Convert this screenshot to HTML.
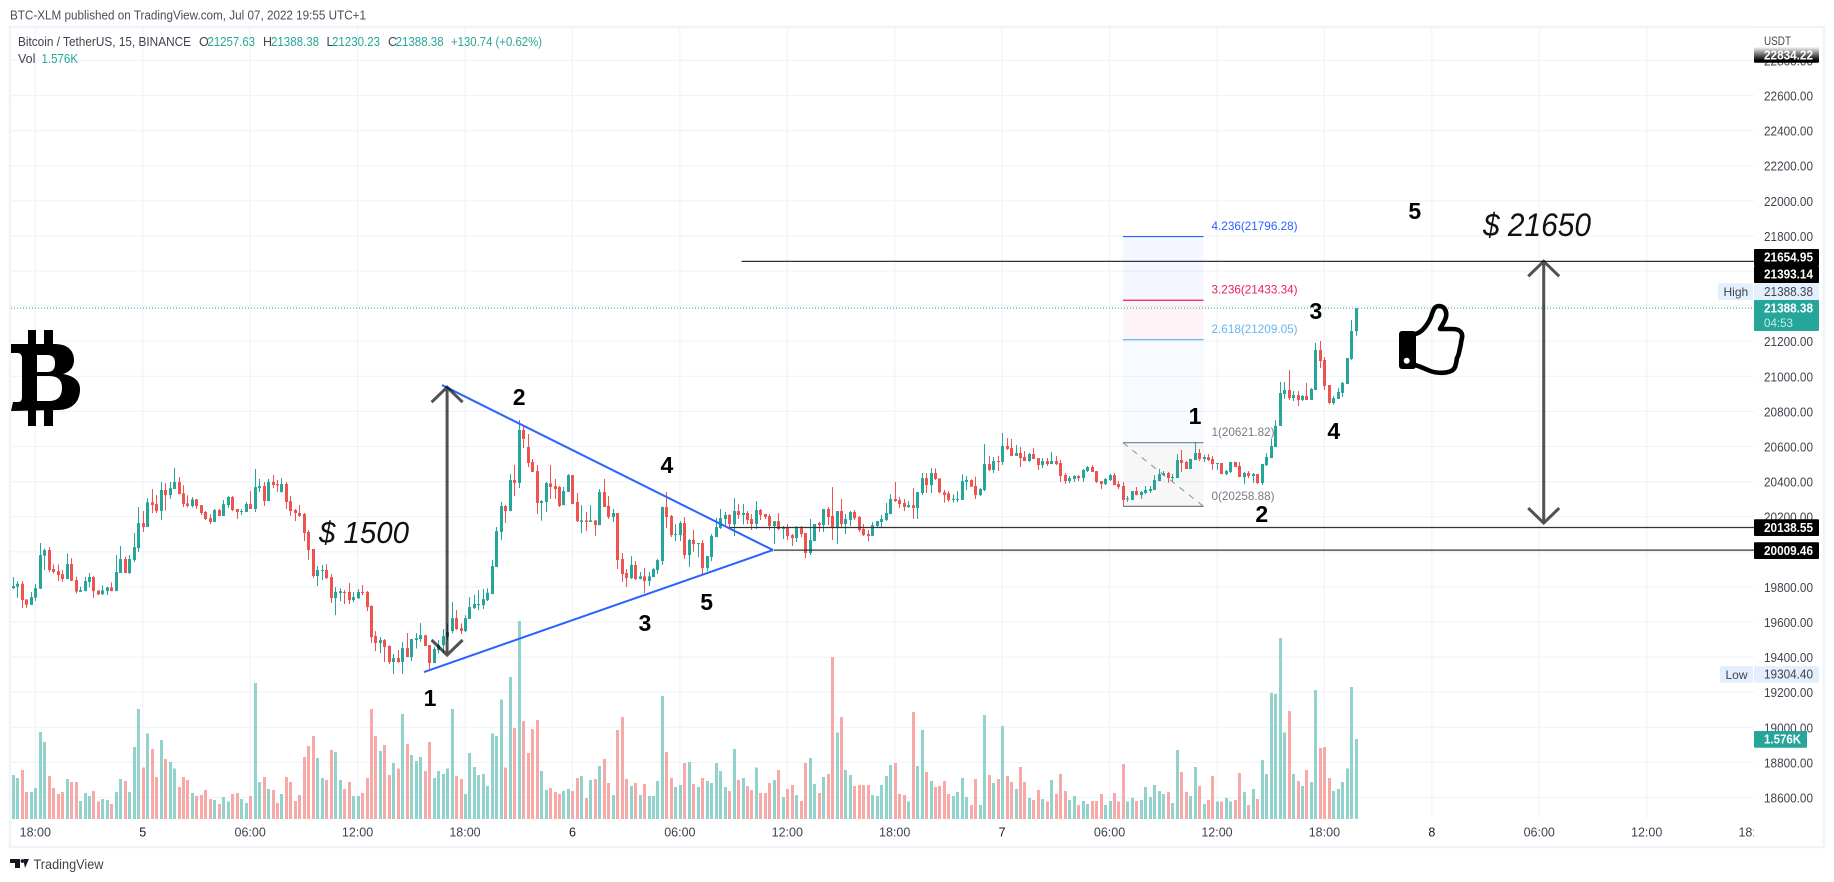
<!DOCTYPE html>
<html lang="en">
<head>
<meta charset="utf-8">
<title>BTC-XLM published on TradingView.com</title>
<style>
html,body{margin:0;padding:0;background:#fff;width:1834px;height:882px;overflow:hidden}
svg{display:block}
text{font-family:"Liberation Sans",sans-serif}
</style>
</head>
<body>
<svg id="chart" width="1834" height="882" viewBox="0 0 1834 882" xmlns="http://www.w3.org/2000/svg">
<defs>
<clipPath id="pane"><rect x="11" y="28" width="1743" height="818"/></clipPath>
<linearGradient id="fade" x1="0" y1="0" x2="0" y2="1"><stop offset="0" stop-color="#fff"/><stop offset="0.85" stop-color="#000"/><stop offset="1" stop-color="#000"/></linearGradient>
</defs>
<rect x="0" y="0" width="1834" height="882" fill="#fff"/>
<text x="10" y="19.5" font-size="13" fill="#4a4e58" textLength="356" lengthAdjust="spacingAndGlyphs">BTC-XLM published on TradingView.com, Jul 07, 2022 19:55 UTC+1</text>
<rect x="10" y="27" width="1814" height="820" fill="none" stroke="#f0f3fa" stroke-width="2.4"/>
<g id="grid"></g>
<g id="volumes"></g>
<g id="candles"></g>
<g id="fib"></g>
<g id="levels"></g>
<g id="triangle"></g>
<g id="arrows"></g>
<g id="waves"></g>
<text x="319" y="543" font-size="31" font-style="italic" fill="#111" textLength="90" lengthAdjust="spacingAndGlyphs">$ 1500</text>
<text x="1483" y="236" font-size="32" font-style="italic" fill="#111" textLength="108" lengthAdjust="spacingAndGlyphs">$ 21650</text>
<g fill="#000">
<path fill-rule="evenodd" d="M11 344H55C68 344 74 351 74 360C74 367 70 372 63 374C74 376 80 381 80 389C80 402 72 410 58 410L11 411L13 402H18C21 402 22 400 22 397V358C22 355 20 353 18 353H11ZM37 355V372H47C53 372 55 369 55 363C55 358 53 355 47 355ZM37 376V401H49C58 401 62 396 62 388C62 380 58 376 49 376Z"/>
<rect x="28" y="330" width="8" height="15"/><rect x="44" y="330" width="9" height="15"/>
<rect x="28" y="409" width="8" height="17"/><rect x="44" y="409" width="9" height="17"/>
</g>
<g>
<rect x="1399" y="331" width="17" height="38" rx="3" fill="#000"/>
<circle cx="1406.7" cy="360.7" r="3" fill="#fff"/>
<path d="M1415 334C1422 333 1428 324 1431 317C1433 311 1434 306 1439 306C1445 306 1447 312 1446 317C1445 321 1442 325 1440 329H1453C1460 329 1463 333 1462 338C1461 341 1461 345 1460 348C1459 352 1459 355 1457 358C1456 363 1456 369 1451 371C1444 374 1434 373 1428 370C1423 368 1419 366 1415 365" fill="none" stroke="#000" stroke-width="4.6" stroke-linejoin="round" stroke-linecap="round"/>
</g>
<g font-size="12.5">
<text x="18" y="46" fill="#3f434d" textLength="173" lengthAdjust="spacingAndGlyphs">Bitcoin / TetherUS, 15, BINANCE</text>
<text x="199" y="46" fill="#3f434d">O</text>
<text x="207.5" y="46" fill="#26a69a" textLength="47.5" lengthAdjust="spacingAndGlyphs">21257.63</text>
<text x="263" y="46" fill="#3f434d">H</text>
<text x="271" y="46" fill="#26a69a" textLength="48" lengthAdjust="spacingAndGlyphs">21388.38</text>
<text x="326.5" y="46" fill="#3f434d">L</text>
<text x="332" y="46" fill="#26a69a" textLength="48" lengthAdjust="spacingAndGlyphs">21230.23</text>
<text x="388" y="46" fill="#3f434d">C</text>
<text x="395.6" y="46" fill="#26a69a" textLength="48" lengthAdjust="spacingAndGlyphs">21388.38</text>
<text x="451" y="46" fill="#26a69a" textLength="91" lengthAdjust="spacingAndGlyphs">+130.74 (+0.62%)</text>
<text x="18" y="63" fill="#3f434d">Vol</text>
<text x="41.5" y="63" fill="#26a69a" textLength="36.5" lengthAdjust="spacingAndGlyphs">1.576K</text>
</g>
<g id="timeaxis"></g>
<rect x="1754" y="28" width="68" height="818" fill="#fff"/>
<text x="1764" y="45" font-size="12" fill="#3f434d" textLength="27" lengthAdjust="spacingAndGlyphs">USDT</text>
<g id="priceaxis"></g>
<g id="badges"></g>
<g>
<path d="M10 859H20V868H15V863H10Z M25 868L29 859H24V863 Z" fill="#131722" stroke="none"/>
<circle cx="22.5" cy="861" r="1.9" fill="#131722"/>
<text x="33.5" y="869" font-size="14" fill="#3f434d" textLength="70" lengthAdjust="spacingAndGlyphs">TradingView</text>
</g>
</svg>
<script>
const opens=[19793,19801,19818,19729,19698,19738,19790,19978,20010,19902,
19890,19873,19845,19930,19839,19772,19776,19828,19856,19780,
19759,19776,19797,19776,19879,19959,19879,19953,20021,20164,
20141,20282,20272,20232,20352,20323,20358,20398,20333,20276,
20261,20299,20266,20227,20192,20170,20238,20204,20266,20312,
20244,20228,20227,20272,20244,20363,20375,20289,20398,20386,
20341,20386,20289,20238,20221,20215,20113,20016,19862,19890,
19896,19856,19736,19765,19771,19771,19725,19736,19771,19771,
19691,19520,19480,19497,19463,19372,19394,19372,19451,19400,
19497,19503,19525,19468,19366,19440,19468,19516,19548,19622,
19565,19548,19617,19679,19696,19696,19725,19759,19913,20113,
20261,20232,20409,20392,20694,20597,20512,20460,20278,20284,
20390,20375,20369,20266,20341,20437,20284,20170,20179,20170,
20179,20152,20341,20261,20198,20221,19959,19879,19850,19925,
19845,19860,19833,19856,19896,19947,20255,20204,20095,20095,
20164,19981,20067,20044,20050,19907,19970,20084,20135,20187,
20210,20156,20232,20210,20221,20187,20158,20238,20215,20204,
20147,20175,20130,20141,20095,20078,20135,20107,19993,20061,
20164,20152,20244,20204,20135,20232,20158,20181,20227,20198,
20130,20101,20090,20147,20170,20181,20215,20301,20295,20278,
20255,20266,20249,20335,20420,20380,20449,20418,20339,20333,
20297,20295,20295,20398,20409,20375,20323,20352,20500,20466,
20517,20512,20603,20591,20546,20563,20540,20517,20557,20534,
20494,20517,20500,20517,20506,20437,20403,20415,20432,20420,
20460,20483,20460,20403,20386,20409,20437,20386,20375,20299,
20295,20346,20323,20335,20346,20352,20403,20437,20449,20420,
20420,20523,20512,20472,20523,20563,20529,20540,20529,20500,
20506,20443,20455,20512,20489,20426,20449,20432,20443,20392,
20494,20534,20597,20717,20899,20922,20876,20893,20865,20888,
20865,20922,21150,21093,20950,20848,20871,20905,20956,21099,21257.63];
const highs=[19856,19833,19833,19729,19771,19816,20050,20018,20027,19928,
19928,19896,19991,19964,19858,19801,19858,19879,19862,19780,
19810,19801,19826,19981,20033,19972,19981,20107,20255,20232,
20305,20358,20323,20398,20392,20398,20477,20426,20379,20323,
20312,20301,20266,20232,20215,20244,20244,20295,20318,20318,
20244,20244,20284,20346,20472,20415,20398,20415,20437,20409,
20420,20398,20318,20244,20266,20221,20124,20016,19919,19925,
19930,19873,19799,19793,19782,19822,19771,19788,19810,19776,
19696,19548,19514,19503,19468,19417,19440,19486,19537,19503,
19537,19594,19525,19468,19459,19497,19560,19592,19714,19668,
19592,19639,19742,19754,19782,19788,19792,19953,20141,20284,
20266,20443,20495,20751,20717,20671,20529,20495,20295,20399,
20495,20415,20375,20369,20443,20437,20335,20266,20227,20266,
20179,20358,20415,20318,20244,20221,19993,19902,19976,19947,
19885,19907,19885,19907,19959,20257,20341,20210,20158,20175,
20198,20073,20124,20050,20067,19976,20101,20192,20244,20227,
20215,20306,20272,20272,20232,20215,20289,20244,20215,20215,
20175,20221,20147,20158,20101,20147,20147,20107,20187,20158,
20170,20244,20255,20369,20232,20301,20215,20232,20238,20204,
20158,20124,20170,20175,20210,20278,20329,20398,20312,20301,
20289,20363,20341,20449,20449,20477,20475,20418,20352,20346,
20327,20346,20441,20432,20413,20428,20363,20614,20546,20540,
20546,20677,20648,20643,20608,20597,20574,20563,20591,20534,
20534,20534,20569,20546,20523,20449,20432,20437,20437,20472,
20489,20494,20460,20403,20420,20443,20449,20403,20398,20318,
20346,20369,20346,20375,20375,20437,20472,20460,20455,20443,
20557,20580,20517,20529,20626,20586,20552,20557,20546,20506,
20506,20466,20512,20512,20512,20455,20460,20449,20443,20500,
20563,20643,20751,20968,20968,21036,20916,20916,20893,20962,
20933,21190,21201,21110,20950,20888,20933,20968,21104,21321,21388.38];
const lows=[19788,19738,19681,19681,19696,19719,19788,19896,19885,19877,
19833,19829,19845,19833,19763,19771,19776,19797,19738,19753,
19753,19753,19776,19776,19879,19879,19873,19942,19999,20113,
20141,20221,20221,20181,20236,20301,20358,20329,20255,20253,
20253,20244,20209,20181,20158,20170,20204,20204,20249,20232,
20187,20209,20227,20244,20227,20341,20261,20289,20363,20341,
20337,20244,20204,20175,20200,20061,19953,19850,19805,19839,
19845,19708,19639,19719,19702,19702,19714,19731,19753,19662,
19480,19434,19423,19372,19360,19303,19366,19304,19400,19377,
19449,19486,19463,19326,19366,19421,19421,19497,19535,19554,
19531,19543,19617,19674,19668,19674,19719,19759,19913,20067,
20164,20232,20318,20363,20591,20483,20455,20215,20177,20227,
20301,20301,20255,20266,20341,20272,20170,20107,20118,20170,
20090,20152,20255,20187,20170,19902,19828,19799,19845,19839,
19843,19765,19805,19856,19873,19925,20135,20084,20061,20061,
19959,19913,20000,19970,19873,19890,19947,20084,20130,20152,
20135,20090,20187,20156,20158,20124,20130,20181,20187,20124,
20044,20124,20073,20067,20033,20056,20084,19964,19981,20061,
20113,20113,20152,20067,20044,20135,20101,20147,20181,20113,
20090,20061,20090,20141,20135,20175,20215,20284,20249,20232,
20249,20187,20187,20323,20335,20335,20409,20333,20280,20285,
20280,20284,20295,20352,20371,20301,20318,20346,20460,20449,
20460,20495,20580,20546,20546,20483,20517,20512,20529,20466,
20477,20489,20500,20494,20398,20386,20392,20398,20403,20398,
20455,20455,20392,20358,20380,20403,20380,20358,20261,20284,
20295,20323,20301,20329,20335,20352,20403,20432,20392,20398,
20420,20455,20472,20472,20523,20517,20512,20517,20466,20466,
20443,20437,20449,20483,20426,20386,20420,20392,20386,20380,
20489,20534,20597,20717,20871,20865,20859,20831,20859,20865,
20865,20922,21047,20922,20842,20837,20871,20882,20956,21093,21230.23];
const closes=[19805,19818,19725,19698,19742,19793,19981,20010,19896,19885,
19867,19845,19930,19835,19774,19782,19833,19856,19776,19757,
19780,19797,19776,19885,19959,19879,19959,20027,20164,20141,
20282,20266,20232,20352,20323,20363,20398,20329,20272,20261,
20299,20261,20221,20187,20170,20238,20204,20272,20312,20238,
20227,20232,20272,20244,20369,20375,20289,20398,20381,20379,
20386,20284,20232,20221,20204,20107,20010,19862,19896,19896,
19850,19736,19771,19776,19765,19725,19742,19771,19765,19685,
19514,19480,19497,19457,19372,19394,19372,19451,19400,19503,
19508,19525,19463,19366,19446,19468,19520,19543,19622,19560,
19548,19622,19685,19702,19702,19731,19767,19919,20118,20261,
20232,20409,20392,20694,20643,20506,20455,20278,20289,20392,
20369,20358,20261,20346,20437,20272,20175,20179,20170,20179,
20152,20341,20255,20198,20221,19953,19873,19850,19925,19845,
19860,19833,19860,19902,19953,20255,20198,20095,20101,20164,
19981,20067,20044,20050,19907,19976,20090,20141,20192,20210,
20158,20232,20210,20221,20181,20158,20238,20210,20198,20147,
20175,20130,20141,20090,20078,20141,20101,19993,20067,20158,
20152,20244,20198,20135,20232,20158,20187,20227,20192,20124,
20095,20090,20152,20175,20187,20221,20301,20289,20272,20255,
20266,20249,20341,20420,20380,20449,20415,20339,20323,20295,
20303,20301,20403,20409,20371,20323,20358,20500,20466,20517,
20512,20603,20586,20546,20563,20534,20517,20557,20529,20494,
20517,20500,20517,20500,20432,20403,20420,20432,20420,20466,
20483,20455,20398,20386,20415,20437,20380,20369,20295,20305,
20346,20323,20341,20352,20358,20409,20443,20449,20420,20426,
20523,20506,20472,20529,20563,20529,20540,20523,20500,20506,
20443,20460,20512,20483,20426,20449,20432,20443,20392,20500,
20540,20603,20717,20905,20922,20876,20893,20865,20888,20865,
20928,21150,21087,20945,20848,20876,20911,20962,21104,21258,21388.38];
const volumesK=[.87,.81,.97,.53,.53,.61,1.71,1.52,.85,.61,
.49,.53,.79,.73,.73,.35,.51,.45,.55,.34,
.39,.37,.30,.53,.79,.75,.53,1.42,2.17,1.01,
1.68,1.38,.83,1.56,1.18,1.12,.99,.63,.83,.77,
.51,.45,.47,.57,.39,.37,.30,.43,.34,.49,
.51,.39,.32,.45,2.68,.73,.83,.59,.57,.32,
.49,.83,.73,.35,.47,1.22,1.44,1.64,1.20,.81,
.77,1.36,1.32,.77,.59,.73,.45,.45,.51,.81,
2.17,1.64,1.34,1.46,.87,1.10,.99,2.07,1.48,1.26,
1.14,1.22,.95,1.52,.81,.95,.89,.99,2.17,.85,
.79,.49,1.30,1.02,.87,.89,.65,1.68,1.64,2.35,
1.01,2.80,1.79,3.90,1.93,1.30,1.77,1.95,.95,.57,
.61,.53,.49,.55,.59,.55,.81,.85,.41,.77,
.79,1.04,1.18,.71,.47,1.75,2.01,.79,.65,.71,
.47,.69,.45,.45,.75,2.42,1.32,.81,.63,.67,
1.10,1.12,.69,.63,
.81,.75,.71,1.10,.95,.63,.55,1.38,.77,.81,
.65,.57,1.01,.51,.51,.71,.77,.97,.43,.59,
.67,.47,.35,1.10,1.20,.69,.51,.83,.89,3.19,
1.70,2.01,.97,.87,.65,.67,.67,.67,.47,.45,
.67,.85,1.06,1.10,.49,.47,.34,2.11,1.04,1.75,
.93,.75,.63,.65,.75,.49,.45,.53,.81,.43,
.28,.79,.28,2.05,.87,.71,.79,1.83,.85,.73,
.59,1.02,.73,.41,.37,.57,.39,.34,.77,.49,
.89,.55,.37,.45,.28,.35,.30,.35,.35,.49,
.28,.35,.51,.34,1.08,.34,.41,.35,.37,.63,
.43,.67,.55,.49,.53,.32,1.36,.93,.53,.45,
1.02,.65,.30,.37,.85,.34,.34,.41,.34,.37,
.91,.53,.28,.59,.39,1.16,.89,2.48,2.46,3.57,
1.70,2.13,.89,.75,.65,.97,.73,2.54,1.40,1.42,
.81,.55,.59,.73,.99,2.60,1.576];
const priceTicks=[22800,22600,22400,22200,22000,21800,21600,21400,21200,21000,20800,20600,20400,20200,20000,19800,19600,19400,19200,19000,18800,18600];
const timeLabels=["18:00","5","06:00","12:00","18:00","6","06:00","12:00","18:00","7","06:00","12:00","18:00","8","06:00","12:00","18:00"];
const fibRatios=["4.236","3.236","2.618","1","0"];
const fibPrices=[21796.28,21433.34,21209.05,20621.82,20258.88];
const levelPrices=[21654.95,20138.55,20009.46];
const lastPrice=21388.38;
const waveText=['1','2','3','4','5','1','2','3','4','5'];
const waveBar=[93.2,113.1,141.2,146.1,155,264.1,279,291.1,295.1,313.2];
const wavePrice=[19167,20882,19594,20495,19714,20774,20215,21372,20688,21942];

const NS='http://www.w3.org/2000/svg';
const UP='#26a69a',DOWN='#ef5350';
function x(i){return 35.3+(i-5)*4.476;}
function y(p){return 95.5+(22600-p)*0.1755;}
function vy(v){return 819-v*50.76;}
function mk(tag,parent,attrs,txt){
  const el=document.createElementNS(NS,tag);
  for(const k in attrs){el.setAttribute(k,attrs[k]);}
  if(txt!==undefined){el.textContent=txt;}
  parent.appendChild(el);
  return el;
}
const gGrid=document.getElementById('grid');
const gVol=document.getElementById('volumes');
const gCandles=document.getElementById('candles');
const gFib=document.getElementById('fib');
const gLevels=document.getElementById('levels');
const gTri=document.getElementById('triangle');
const gArrows=document.getElementById('arrows');
const gWaves=document.getElementById('waves');
const gTime=document.getElementById('timeaxis');
const gPrice=document.getElementById('priceaxis');
const gBadges=document.getElementById('badges');

priceTicks.forEach(function(p){
  const el=mk('line',gGrid,{x1:11,x2:1754,y1:y(p),y2:y(p),stroke:'#f0f3fa','stroke-width':1.2});
  
  
});
timeLabels.forEach(function(t,k){
  const X=x(5+24*k);
  if(X<1754){
    const el=mk('line',gGrid,{x1:X,x2:X,y1:28,y2:818,stroke:'#f0f3fa','stroke-width':1.2});
    
    
  }
  const lab=mk('text',gTime,{x:X,y:836.5,'font-size':12.5,'text-anchor':'middle','clip-path':'url(#pane)',fill:t.length===1?'#131722':'#3f434d'},t);
  
  
});
volumesK.forEach(function(v,i){
  const up=closes[i]>=opens[i];
  const X=Math.round(x(i));
  const el=mk('rect',gVol,{x:X-1,y:vy(v),width:3,height:819-vy(v),fill:up?'#92d2cc':'#f7a9a7','shape-rendering':'crispEdges'});
  
  
});
opens.forEach(function(o,i){
  const c=closes[i];
  const up=c>=o;
  const col=up?UP:DOWN;
  const X=Math.round(x(i));
  const w=mk('rect',gCandles,{x:X,y:y(highs[i]),width:1,height:Math.max(1,y(lows[i])-y(highs[i])),fill:col});
  
  
  const top=y(Math.max(o,c));
  const b=mk('rect',gCandles,{x:X-1,y:top,width:3,height:Math.max(1,y(Math.min(o,c))-top),fill:col});
  
  
});
const lastLine=mk('line',gCandles,{x1:11,x2:1754,y1:y(lastPrice),y2:y(lastPrice),stroke:UP,'stroke-width':1,'stroke-dasharray':'1 2'});



const fibColors=['#2962ff','#e91e63','#64b5f6','#787b86','#787b86'];
const fibFills=['rgba(41,98,255,.05)','rgba(233,30,99,.05)','rgba(100,181,246,.05)','rgba(120,123,134,.06)'];
const fibL=x(248),fibR=x(266);
fibPrices.forEach(function(p,k){
  if(k<4){
    const f=mk('rect',gFib,{x:fibL,y:y(p),width:fibR-fibL,height:y(fibPrices[k+1])-y(p),fill:fibFills[k]});
    
    
  }
  const l=mk('line',gFib,{x1:fibL,x2:fibR,y1:y(p),y2:y(p),stroke:fibColors[k],'stroke-width':1.2});
  
  
  const txt=fibRatios[k]+'('+p.toFixed(2)+')';
  const attrs={x:fibR+8,y:y(p)-6.5,'font-size':12,fill:fibColors[k],textLength:k>2?63:86,lengthAdjust:'spacingAndGlyphs'};
  const t=mk('text',gFib,attrs,txt);
  
  
});
const diag=mk('line',gFib,{x1:fibL,y1:y(fibPrices[3]),x2:fibR,y2:y(fibPrices[4]),stroke:'#8a8d96','stroke-width':1,'stroke-dasharray':'6 6'});



const levelStarts=[162.8,159.8,170];
levelPrices.forEach(function(p,k){
  const l=mk('line',gLevels,{x1:x(levelStarts[k]),x2:1754,y1:y(p),y2:y(p),stroke:'#333','stroke-width':1.2});
  
  
});

const apexBar=169.8,apexPrice=20010;
const upper=mk('line',gTri,{x1:x(95.86),y1:y(20950),x2:x(apexBar),y2:y(apexPrice),stroke:'#2962ff','stroke-width':2});


const lower=mk('line',gTri,{x1:x(91.84),y1:y(19315),x2:x(apexBar),y2:y(apexPrice),stroke:'#2962ff','stroke-width':2});



function drawArrow(bar,topP,botP){
  const X=x(bar),T=y(topP),B=y(botP);
  const a=mk('path',gArrows,{d:'M'+X+' '+T+'V'+B+'M'+(X-15.5)+' '+(T+15)+'L'+X+' '+T+'L'+(X+15.5)+' '+(T+15)+'M'+(X-15.5)+' '+(B-15)+'L'+X+' '+B+'L'+(X+15.5)+' '+(B-15),fill:'none',stroke:'rgba(0,0,0,.68)','stroke-width':3});
  
  
}
drawArrow(97,20938,19412);
drawArrow(342,21655,20164);

waveText.forEach(function(t,k){
  const w=mk('text',gWaves,{x:x(waveBar[k]),y:y(wavePrice[k])+8,'font-size':23,'font-weight':'bold','text-anchor':'middle',fill:'#000'},t);
  
  
});

priceTicks.forEach(function(p){
  const t=mk('text',gPrice,{x:1764,y:y(p)+5,'font-size':12.5,fill:'#3f434d',textLength:49,lengthAdjust:'spacingAndGlyphs'},p.toFixed(2));
  
  
});

function badge(yTop,h,bg,fg,label,bold,w){
  const r=mk('rect',gBadges,{x:1754,y:yTop,width:w||65,height:h,fill:bg,rx:1});
  
  
  const t=mk('text',gBadges,{x:1764,y:yTop+12.7,'font-size':12.5,'font-weight':bold?'bold':'normal',fill:fg,textLength:label.length>6?49:37,lengthAdjust:'spacingAndGlyphs'},label);
  
  
}
badge(46.7,16,'url(#fade)','#fff','22834.22',true);
badge(249,17,'#000','#fff','21654.95',true);
badge(266,17,'#000','#fff','21393.14',true);
badge(283.3,16.7,'#e3effd','#3f434d','21388.38',false);
badge(519.3,16.7,'#000','#fff','20138.55',true);
badge(542.3,16.7,'#000','#fff','20009.46',true);
badge(666,16.7,'#e3effd','#3f434d','19304.40',false);
badge(731,16.7,UP,'#fff','1.576K',true,53);
badge(300,31,UP,'#fff','21388.38',true);
const cd=mk('text',gBadges,{x:1764,y:327,'font-size':12,fill:'#c8ebe6',textLength:29,lengthAdjust:'spacingAndGlyphs'},'04:53');


const hb=mk('rect',gBadges,{x:1718,y:283.3,width:35,height:16.7,fill:'#e3effd',rx:1});


const ht=mk('text',gBadges,{x:1723.5,y:296,'font-size':12,fill:'#3f434d'},'High');


const lb=mk('rect',gBadges,{x:1720,y:666,width:33,height:16.7,fill:'#e3effd',rx:1});


const lt=mk('text',gBadges,{x:1725.5,y:679,'font-size':12,fill:'#3f434d'},'Low');


</script>
</body>
</html>
